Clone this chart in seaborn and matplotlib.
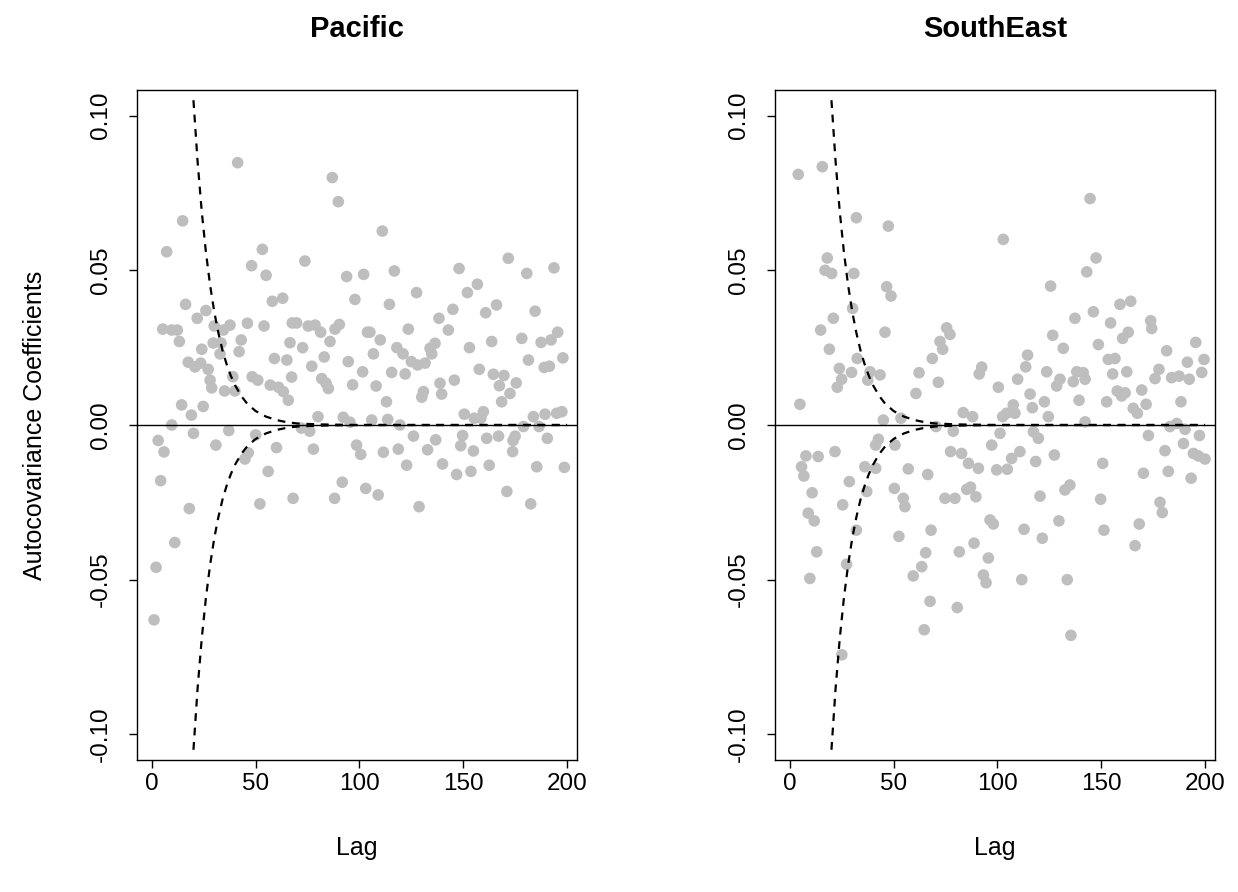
import matplotlib
matplotlib.use("Agg")
import matplotlib.pyplot as plt
import seaborn as sns
import pandas as pd

# ---------------- data ----------------
panel_titles = ["Pacific", "SouthEast"]
x_ticks = [0, 50, 100, 150, 200]
x_tick_labels = ["0", "50", "100", "150", "200"]
y_ticks = [-0.10, -0.05, 0.00, 0.05, 0.10]
y_tick_labels = ["-0.10", "-0.05", "0.00", "0.05", "0.10"]
y_label = "Autocovariance Coefficients"
x_label = "Lag"

pacific_lag = [
    14.8, 7.1, 16.2, 26, 21.8, 30, 5.2, 9.5, 12.2, 13.2, 24, 29.5, 17.5, 20.7, 23.5, 27.1,
    28, 28.8, 14.3, 19, 24.7, 9.5, 20, 3, 5.8, 30.8, 4.2, 18, 11, 2, 1,
    41.3, 53.2, 48, 55, 58, 63, 37.6, 46, 54, 34.4, 67.6, 43, 33.3, 42, 32.8, 59, 65, 66.5,
    39, 48.3, 51, 57, 61, 63.3, 65.7, 67.3, 35, 40, 37, 50, 46.4, 44.8, 60, 56, 52, 68,
    86.9, 89.8, 73.7, 93.8, 102, 97.8, 69.7, 75.3, 78.6, 81.3, 90.3, 88.2, 103.8, 72.6,
    85.8, 83, 77, 94.6, 101.5, 81.8, 83.9, 85, 96.7, 80, 92.2, 95.4, 72, 76, 77.8, 98.6,
    100.6, 91.7, 103, 88,
    111, 116.8, 127.5, 114.4, 138.3, 105, 110, 123.5, 106.7, 118, 121, 125, 128, 131.6,
    134, 136.4, 134.8, 115.5, 122, 108, 130.8, 130, 138.8, 139.6, 113, 105.9, 113.6, 119.5,
    126, 136.7, 111.5, 118.7, 132.8, 122.7, 140, 109, 128.7,
    171.7, 148, 156.8, 152, 166, 160.8, 145, 142.8, 153, 163.7, 157.7, 164.5, 169.6, 167.4,
    145.7, 172.5, 168.5, 150.5, 155.3, 159.7, 158.5, 149.7, 148.8, 154.9, 161.3, 167, 175,
    174, 173.8, 146.8, 153.7, 162.5, 171,
    180.6, 193.7, 184.6, 195.5, 192.3, 178.2, 187.5, 181.4, 198, 191.5, 189, 175.5, 183.8,
    189.4, 195, 197.5, 186.5, 179, 190.5, 185.4, 198.7, 182.5,
]
pacific_acv = [
    0.066, 0.056, 0.039, 0.037, 0.0345, 0.032, 0.031, 0.0307, 0.0307, 0.027, 0.0245, 0.0265,
    0.0203, 0.0188, 0.020, 0.018, 0.0145, 0.012, 0.0065, 0.0032, 0.006, 0.0, -0.0027, -0.005,
    -0.0087, -0.0065, -0.018, -0.027, -0.038, -0.046, -0.063,
    0.0848, 0.0568, 0.0515, 0.0484, 0.040, 0.041, 0.0323, 0.0329, 0.032, 0.0307, 0.033,
    0.0275, 0.0265, 0.0237, 0.023, 0.0215, 0.021, 0.0266, 0.0156, 0.0156, 0.0145, 0.0129,
    0.0122, 0.0108, 0.008, 0.0155, 0.011, 0.011, -0.0018, -0.0032, -0.009, -0.011, -0.0073,
    -0.015, -0.0255, -0.0237,
    0.080, 0.0722, 0.053, 0.048, 0.0487, 0.0406, 0.033, 0.032, 0.0323, 0.030, 0.0325, 0.031,
    0.030, 0.025, 0.027, 0.022, 0.019, 0.0205, 0.0172, 0.015, 0.0135, 0.0118, 0.013, 0.0027,
    0.0025, 0.0009, -0.001, -0.002, -0.0078, -0.0065, -0.0095, -0.0185, -0.0205, -0.0237,
    0.0627, 0.0498, 0.0428, 0.039, 0.0345, 0.030, 0.0275, 0.031, 0.023, 0.025, 0.023, 0.0205,
    0.0194, 0.020, 0.0248, 0.0264, 0.023, 0.017, 0.0165, 0.0126, 0.0108, 0.009, 0.0135,
    0.010, 0.0075, 0.0016, 0.0018, 0.0, -0.0036, -0.0048, -0.0088, -0.0078, -0.008, -0.013,
    -0.0126, -0.0226, -0.0264,
    0.0539, 0.0506, 0.0455, 0.0428, 0.0388, 0.0363, 0.0374, 0.0307, 0.025, 0.027, 0.018,
    0.0164, 0.016, 0.0127, 0.0145, 0.0102, 0.0075, 0.0035, 0.0022, 0.0043, 0.0022, -0.0034,
    -0.0067, -0.0084, -0.0043, -0.0036, -0.0036, -0.005, -0.0086, -0.016, -0.015, -0.013,
    -0.0215,
    0.049, 0.0508, 0.0368, 0.030, 0.0275, 0.028, 0.0267, 0.021, 0.0217, 0.019, 0.0186, 0.0136,
    0.0027, 0.0035, 0.0038, 0.0043, -0.0005, -0.0005, -0.0043, -0.0135, -0.0137, -0.0255,
]

southeast_lag = [
    4, 15.6, 32, 18, 16.9, 20.1, 30.8, 30.2, 20.9, 14.8, 19, 32.4, 23.8, 29.7, 24.9, 22.8,
    4.8, 7.7, 13.6, 21.7, 5.6, 6.7, 28.6, 10.7, 25.4, 8.8, 11.7, 12.9, 27.3, 9.6, 25, 32,
    47.4, 46.6, 48.7, 45.8, 68.6, 38.6, 43.4, 37.5, 62.2, 60.7, 45, 53.5, 42.6, 41.3, 50.6,
    36.1, 41.3, 57, 66.4, 37, 50.3, 54.6, 55.4, 52.5, 68, 65.4, 63.5, 59.4, 67.5, 64.7,
    102.8, 75.5, 77.1, 72.3, 73.6, 92.4, 91.2, 71.5, 100.4, 83.5, 88, 102.5, 70.4, 78.7,
    101.2, 97.2, 77.4, 82.7, 86, 90.8, 99.6, 104.7, 74.7, 79.5, 85.2, 87, 89.6, 96.4, 98,
    88.7, 81.6, 95.6, 93.2, 94.5, 80.6,
    125.6, 143, 137.3, 126.6, 131.7, 114.5, 113.6, 109.7, 123.7, 130.1, 128.5, 138.2, 136.5,
    115.7, 122.6, 116.8, 107.6, 108.4, 104.4, 124.5, 139.3, 117.3, 119.7, 110.8, 106.8,
    118.4, 127.4, 134.9, 132.5, 120.5, 129.6, 112.8, 121.6, 111.7, 133.6, 135.4,
    144.6, 147.5, 146.2, 159, 164.2, 154.5, 173.8, 174.3, 163, 160.3, 148.6, 153.4, 156.6,
    141.3, 142.2, 155.5, 162.3, 175.9, 152.6, 157.7, 159.8, 161.5, 169.5, 165.4, 167.4,
    171.6, 142.2, 172.7, 150.7, 170.3, 149.7, 151.3, 168.3, 166.3,
    195.5, 181.5, 191.5, 199.5, 198.4, 177.8, 183.9, 187.5, 192.4, 188.4, 183.1, 186.4,
    190.4, 197.3, 189.6, 180.7, 194.4, 196.8, 200, 182.3, 193.3, 178.3, 179.4,
]
southeast_acv = [
    0.081, 0.0835, 0.067, 0.054, 0.050, 0.049, 0.049, 0.0377, 0.0345, 0.0307, 0.0245, 0.0215,
    0.0183, 0.017, 0.0148, 0.0122, 0.0067, -0.010, -0.0102, -0.0086, -0.0135, -0.0165,
    -0.0183, -0.0219, -0.0258, -0.0285, -0.031, -0.041, -0.045, -0.0496, -0.0743, -0.034,
    0.0643, 0.0447, 0.0417, 0.030, 0.0215, 0.0172, 0.0162, 0.0145, 0.0169, 0.0102, 0.0016,
    0.0022, -0.0046, -0.0065, -0.0065, -0.0135, -0.014, -0.0142, -0.016, -0.0215, -0.0205,
    -0.0237, -0.0264, -0.036, -0.034, -0.0413, -0.0458, -0.0488, -0.057, -0.0662,
    0.060, 0.0314, 0.0293, 0.027, 0.0245, 0.0187, 0.0165, 0.0138, 0.0122, 0.004, 0.0027,
    0.0027, -0.0005, -0.002, -0.0027, -0.0065, -0.0086, -0.0092, -0.0124, -0.014, -0.0145,
    -0.0143, -0.0237, -0.0237, -0.0208, -0.0201, -0.0232, -0.0307, -0.032, -0.0382, -0.041,
    -0.043, -0.0485, -0.051, -0.059,
    0.0449, 0.0495, 0.0345, 0.029, 0.0248, 0.0226, 0.0188, 0.0148, 0.0172, 0.0148, 0.0126,
    0.0172, 0.014, 0.010, 0.0075, 0.0056, 0.0065, 0.0038, 0.0038, 0.0027, 0.008, -0.0022,
    -0.0043, -0.0086, -0.0108, -0.0118, -0.0097, -0.0194, -0.021, -0.023, -0.031, -0.0337,
    -0.0366, -0.050, -0.050, -0.068,
    0.0732, 0.054, 0.0366, 0.039, 0.040, 0.033, 0.0337, 0.0312, 0.030, 0.028, 0.026, 0.0212,
    0.0215, 0.0169, 0.0148, 0.0165, 0.0172, 0.015, 0.0075, 0.011, 0.0094, 0.0104, 0.0113,
    0.0054, 0.0038, 0.0067, 0.001, -0.0034, -0.0124, -0.0156, -0.024, -0.034, -0.032, -0.039,
    0.0267, 0.024, 0.0203, 0.0212, 0.017, 0.018, 0.0153, 0.0158, 0.0148, 0.0075, -0.0005,
    0.0005, -0.0014, -0.0034, -0.006, -0.0083, -0.0092, -0.010, -0.011, -0.015, -0.0172,
    -0.025, -0.0283,
]

# dashed envelope curve (upper branch; lower branch is its mirror)
envelope_lag = [20, 22, 24, 26, 28, 30, 32, 34, 36, 38, 40, 43, 46, 50, 55, 60, 65, 70,
                80, 100, 150, 200]
envelope_val = [0.105, 0.0851, 0.069, 0.0559, 0.0453, 0.0367, 0.0298, 0.0241, 0.0196,
                0.0159, 0.0129, 0.0094, 0.0068, 0.0045, 0.0027, 0.0016, 0.0009, 0.0005,
                0.0002, 0.0, 0.0, 0.0]

# ---------------- styling ----------------
sns.set_theme(style="ticks")
plt.rcParams["font.family"] = ["Liberation Sans", "DejaVu Sans"]
plt.rcParams["axes.unicode_minus"] = False
plt.rcParams["text.color"] = "black"
plt.rcParams["axes.labelcolor"] = "black"
plt.rcParams["xtick.color"] = "black"
plt.rcParams["ytick.color"] = "black"

TICK_FS = 17.5
LABEL_FS = 18
TITLE_FS = 21

fig = plt.figure(figsize=(12.38, 8.92), dpi=100)
W, H = 1238.0, 892.0
axes_px = [(137, 90, 577, 760), (775, 90, 1215, 760)]

datasets = [(pacific_lag, pacific_acv), (southeast_lag, southeast_acv)]
point_color = "#BEBEBE"

for i, ((x0, y0, x1, y1), (lags, vals)) in enumerate(zip(axes_px, datasets)):
    ax = fig.add_axes([x0 / W, 1 - y1 / H, (x1 - x0) / W, (y1 - y0) / H])
    df = pd.DataFrame({"lag": lags, "acv": vals})
    sns.scatterplot(data=df, x="lag", y="acv", ax=ax, color=point_color, s=70,
                    edgecolor="none", linewidth=0, zorder=2)
    ax.axhline(0, color="black", lw=1.0, zorder=3)
    env = pd.DataFrame({"lag": envelope_lag, "up": envelope_val,
                        "lo": [-v for v in envelope_val]})
    sns.lineplot(data=env, x="lag", y="up", ax=ax, color="black", lw=1.6,
                 linestyle=(0, (3.5, 3)), zorder=4)
    sns.lineplot(data=env, x="lag", y="lo", ax=ax, color="black", lw=1.6,
                 linestyle=(0, (3.5, 3)), zorder=4)

    ax.set_xlim(-7.2, 204.8)
    ax.set_ylim(-0.1083, 0.1083)
    ax.set_xticks(x_ticks)
    ax.set_xticklabels(x_tick_labels, fontsize=TICK_FS, color="black")
    ax.set_yticks(y_ticks)
    ax.set_yticklabels(y_tick_labels, fontsize=TICK_FS, rotation=90, va="center",
                       color="black")
    ax.tick_params(axis="both", direction="out", length=6, width=1, color="black",
                   labelcolor="black")
    ax.tick_params(axis="x", pad=3)
    ax.tick_params(axis="y", pad=12)
    for sp in ax.spines.values():
        sp.set_visible(True)
        sp.set_color("black")
        sp.set_linewidth(1.0)
    ax.set_xlabel(x_label, fontsize=LABEL_FS, labelpad=30, color="black")
    if i == 0:
        ax.set_ylabel(y_label, fontsize=LABEL_FS, labelpad=31, color="black")
    else:
        ax.set_ylabel("")
    ax.set_title(panel_titles[i], fontsize=TITLE_FS, fontweight="bold", pad=38,
                 color="black")

fig.savefig("out.png", dpi=100, facecolor="white")
